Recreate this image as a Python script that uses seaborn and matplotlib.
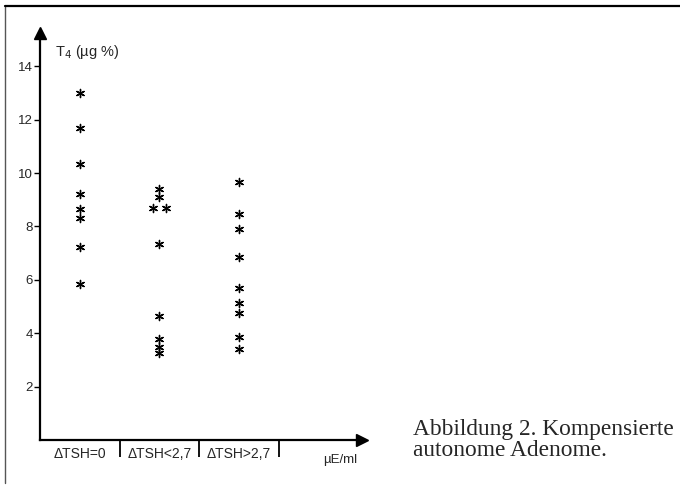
import numpy as np
import pandas as pd
import matplotlib
matplotlib.use("Agg")
import matplotlib.pyplot as plt
from matplotlib.lines import Line2D
import matplotlib.transforms as mtransforms
import seaborn as sns

# ---- data ----
categories = ["ΔTSH=0", "ΔTSH<2,7", "ΔTSH>2,7"]
t4_group1 = [13.0, 11.7, 10.35, 9.2, 8.65, 8.3, 7.25, 5.85]
t4_group2 = [9.4, 9.1, 8.7, 8.7, 7.35, 4.65, 3.8, 3.5, 3.25]
t4_group3 = [9.65, 8.45, 7.9, 6.85, 5.7, 5.15, 4.75, 3.85, 3.4]
y_ticks = [2, 4, 6, 8, 10, 12, 14]
y_label = "T$_4$ (µg %)"
x_unit = "µE/ml"
caption_lines = ["Abbildung 2. Kompensierte", "autonome Adenome."]

groups = [t4_group1, t4_group2, t4_group3]
rows = []
for gi, vals in enumerate(groups):
    for v in vals:
        rows.append({"group": categories[gi], "gidx": gi, "T4": v})
df = pd.DataFrame(rows)
# spread identical values within a group side by side
df["rank"] = df.groupby(["gidx", "T4"]).cumcount()
df["n"] = df.groupby(["gidx", "T4"])["T4"].transform("size")
df["pos"] = df["gidx"] + (df["rank"] - (df["n"] - 1) / 2) * 0.16

sns.set_theme(style="white")
plt.rcParams["font.family"] = ["Liberation Sans", "DejaVu Sans"]

fig = plt.figure(figsize=(6.8, 4.86), dpi=100)
W, H = 680, 486
ax = fig.add_axes([40 / W, (H - 440) / H, (362 - 40) / W, (440 - 33) / H])

sns.scatterplot(data=df, x="pos", y="T4", ax=ax, marker=(6, 2, 0),
                s=34, color="black", edgecolor="black", linewidth=1.0,
                legend=False)

ax.set_xlim(-0.5, 3.55)
ax.set_ylim(0, 15.25)
ax.set_xlabel("")
ax.set_ylabel("")

for s in ["top", "right"]:
    ax.spines[s].set_visible(False)
for s in ["left", "bottom"]:
    ax.spines[s].set_linewidth(1.6)
    ax.spines[s].set_color("black")

# arrow heads
ax.plot([0], [1], marker="^", color="black", markersize=9,
        transform=ax.transAxes, clip_on=False)
ax.plot([1], [0], marker=">", color="black", markersize=9,
        transform=ax.transAxes, clip_on=False)

# y ticks
ax.set_yticks(y_ticks)
ax.set_yticklabels([str(t) for t in y_ticks], fontsize=9.5)
ax.tick_params(axis="y", direction="out", length=4, width=1, pad=1,
               left=True, color="black")

# x: category labels at major ticks (no tick marks), separators as minor ticks
ax.set_xticks(range(len(categories)))
ax.set_xticklabels(categories, fontsize=10)
ax.tick_params(axis="x", which="major", length=0, pad=5)
ax.set_xticks([0.5, 1.5, 2.5], minor=True)
ax.tick_params(axis="x", which="minor", direction="out", length=12,
               width=1.3, bottom=True, color="black")

# y-axis label
ax.text(0.047, 0.953, y_label, transform=ax.transAxes, fontsize=10.5,
        ha="left", va="center")

# unit label for x axis
trans = mtransforms.blended_transform_factory(ax.transData, ax.transAxes)
ax.text(3.28, -0.05, x_unit, transform=trans, fontsize=9.5,
        ha="center", va="center")

# caption
fig.text(413 / W, (H - 435) / H, caption_lines[0], family="Liberation Serif",
         fontsize=16.8, ha="left", va="baseline")
fig.text(413 / W, (H - 456) / H, caption_lines[1], family="Liberation Serif",
         fontsize=16.8, ha="left", va="baseline")

# frame lines (top and left edges of the page box)
fig.add_artist(Line2D([5 / W, 5 / W], [(H - 483) / H, (H - 6) / H],
                      transform=fig.transFigure, color="#555555", lw=1.0))
fig.add_artist(Line2D([5 / W, 1.0], [(H - 6) / H, (H - 6) / H],
                      transform=fig.transFigure, color="black", lw=1.6))

fig.savefig("out.png", dpi=100)
